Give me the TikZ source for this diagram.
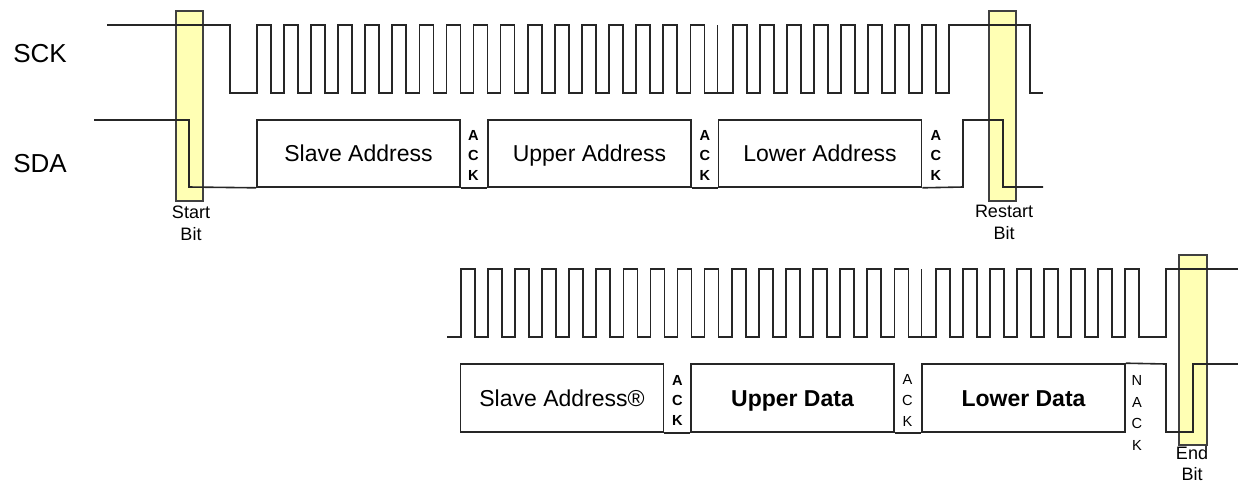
\documentclass[tikz,border=0pt]{standalone}
\usepackage{fontspec}
\setmainfont{Liberation Sans}
\usepackage{tikz}
\definecolor{hilite}{HTML}{FFFFB4}

\begin{document}
\begin{tikzpicture}[x=0.5pt, y=-0.5pt,
  sig/.style={line width=0.8pt, black!85},
  bitbox/.style={draw=black!75, line width=0.8pt, fill=hilite},
  field/.style={draw=black!85, line width=0.8pt, minimum width=101.5pt, minimum height=33.5pt, inner sep=0pt, text height=8.2pt, text depth=0pt, font=\fontsize{11.5}{13}\selectfont},
  ack/.style={align=center, inner sep=0pt, font=\bfseries\fontsize{7.3}{10}\selectfont},
  nack/.style={align=center, inner sep=0pt, font=\fontsize{7.3}{10.7}\selectfont},
  bitlabel/.style={align=center, inner sep=0pt, font=\fontsize{9}{11}\selectfont},
  signame/.style={inner sep=0pt, font=\fontsize{13}{15}\selectfont}]
\useasboundingbox (0,0) rectangle (1238,484);
\draw[bitbox] (176,11) rectangle (203,201);
\draw[bitbox] (989,11) rectangle (1016,201);
\draw[bitbox] (1179,255) rectangle (1207,445);
\node[signame] (sck) at (40,54) {SCK};
\node[signame] (sda) at (40,164) {SDA};
\draw[sig] (107,25) -| (230,93) -- (256.7,93)
  \foreach \k in {0,...,16} { -- ++(0,-68) -- ++(14,0) -- ++(0,68) -- ++(13.1,0) }
  -- (732.7,93)
  \foreach \k in {0,...,7} { -- ++(0,-68) -- ++(14,0) -- ++(0,68) -- ++(13,0) }
  |- (1030,25) -- (1030,93) -- (1043,93);
\draw[sig] (717.5,25) -- (717.5,93);
\node[field] (slave) at (358.5,153.5) {Slave Address};
\node[field] (upper) at (589.5,153.5) {Upper Address};
\node[field] (lower) at (820,153.5) {Lower Address};
\draw[sig] (94,120) -| (189,187) -- (slave.south west);
\draw[sig] (slave.south east) -- (upper.south west) (upper.south east) -- (lower.south west);
\draw[sig] (lower.south east) -- (963,187) |- (1003,120) |- (1043,187);
\node[ack] (ack1) at (473.5,155) {A\\C\\K};
\node[ack] (ack2) at (705,155) {A\\C\\K};
\node[ack] (ack3) at (936,155) {A\\C\\K};
\node[bitlabel] (start) at (191,223) {Start\\Bit};
\node[bitlabel] (restart) at (1004,222) {Restart\\Bit};
\draw[sig] (447,337) -- (460.7,337)
  \foreach \k in {0,...,16} { -- ++(0,-68) -- ++(14,0) -- ++(0,68) -- ++(13.1,0) }
  -- (936,337)
  \foreach \k in {0,...,7} { -- ++(0,-68) -- ++(14,0) -- ++(0,68) -- ++(13,0) }
  -- (1166,337) |- (1238,269);
\draw[sig] (921.5,269) -- (921.5,337);
\node[field, minimum height=34pt] (dslave) at (562,398) {Slave Address®};
\node[field, minimum height=34pt, font=\bfseries\fontsize{11.5}{13}\selectfont] (udata) at (792.5,398) {Upper Data};
\node[field, minimum height=34pt, font=\bfseries\fontsize{11.5}{13}\selectfont] (ldata) at (1023.5,398) {Lower Data};
\draw[sig] (dslave.south east) -- (udata.south west) (udata.south east) -- (ldata.south west);
\draw[sig] (ldata.north east) -- (1166,364) |- (1193,432) |- (1238,364);
\node[ack] (ack4) at (677.5,400) {A\\C\\K};
\node[nack, font=\fontsize{7.3}{10.5}\selectfont] (ack5) at (907.5,400) {A\\C\\K};
\node[nack] (nack) at (1137,413) {N\\A\\C\\K};
\node[bitlabel, font=\fontsize{9}{10.5}\selectfont] (stop) at (1192,464) {End\\Bit};
\end{tikzpicture}
\end{document}
